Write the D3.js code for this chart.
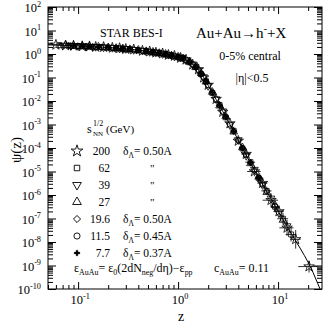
<!DOCTYPE html>
<html>
<head>
<meta charset="utf-8">
<script src="https://cdn.jsdelivr.net/npm/d3@7"></script>
<style>
  body { margin: 0; background: #fff; }
  svg { display: block; font-family: "Liberation Serif", "DejaVu Serif", serif; }
</style>
</head>
<body>
<script>
// ---- data ----
const xTickExps = [-1, 0, 1];
const yTickExps = [-10, -9, -8, -7, -6, -5, -4, -3, -2, -1, 0, 1, 2];

// fitted curve psi(z)
const fitZ   = [0.05, 0.07, 0.1, 0.15, 0.2, 0.3, 0.4, 0.5, 0.6, 0.7, 0.8, 0.92, 1.0, 1.12, 1.2, 1.3, 1.4, 1.5, 1.6, 1.7, 1.8, 1.9, 2.0, 2.2, 2.4, 2.6, 2.8, 3.0, 3.3, 3.6, 4.0, 4.4, 4.8, 5.3, 5.8, 6.4, 7.0, 7.7, 8.5, 9.3, 10.2, 11.2, 12.3, 13.5, 15, 16.6, 18.3, 20.2, 22.4, 25, 27.5];
const fitPsi = [2.5, 2.35, 2.19, 2.02, 1.90, 1.65, 1.46, 1.29, 1.16, 1.03, 0.93, 0.81, 0.74, 0.66, 0.56, 0.46, 0.36, 0.275, 0.21, 0.148, 0.102, 0.068, 0.046, 0.023, 0.0117, 0.0065, 0.0036, 0.0021, 0.001, 5.1e-4, 2.1e-4, 1e-4, 5e-5, 2.3e-5, 1.1e-5, 5.6e-6, 2.9e-6, 1.4e-6, 6.8e-7, 3.5e-7, 1.8e-7, 9.1e-8, 4.5e-8, 2.3e-8, 1.1e-8, 5.5e-9, 2.7e-9, 1.26e-9, 5e-10, 1.66e-10, 6.3e-11];

// sqrt(s_NN) = 200 GeV (stars)
const z200   = [0.06, 0.075, 0.09, 0.11, 0.13, 0.15, 0.18, 0.22, 0.26, 0.3, 0.36, 0.44, 0.52, 0.6, 0.7, 0.8, 0.92, 1.06, 1.2, 1.4, 1.6, 1.8, 2.0, 2.4, 2.8, 3.3, 4.0, 4.8, 5.8, 7.0, 8.5, 10.2, 12.3, 15, 20.4];
const psi200 = [2.45, 2.30, 2.26, 2.12, 2.10, 2.00, 1.97, 1.82, 1.76, 1.62, 1.55, 1.36, 1.28, 1.14, 1.05, 0.91, 0.83, 0.68, 0.57, 0.35, 0.22, 0.098, 0.048, 0.012, 0.0034, 0.0011, 2.0e-4, 5.5e-5, 1.0e-5, 3.2e-6, 6.0e-7, 2.0e-7, 4.0e-8, 1.3e-8, 9e-10];
const dz200  = [0.012, 0, 0, 0, 0, 0, 0, 0, 0, 0, 0, 0, 0, 0, 0, 0, 0, 0, 0, 0, 0, 0, 0, 0, 0, 0, 0.3, 0.5, 0.9, 0.8, 1.5, 1.2, 2.0, 1.8, 4.5];
const df200  = [1, 1, 1, 1, 1, 1, 1, 1, 1, 1, 1, 1, 1, 1, 1, 1, 1, 1, 1, 1, 1, 1, 1, 1, 1, 1, 1.3, 1.5, 1.6, 1.5, 2.0, 1.8, 2.2, 2.5, 1.8];

// 62 GeV (squares)
const z62   = [0.065, 0.08, 0.1, 0.12, 0.14, 0.17, 0.2, 0.24, 0.28, 0.33, 0.4, 0.48, 0.56, 0.65, 0.75, 0.86, 1.0, 1.12, 1.3, 1.5, 1.7, 1.9, 2.2, 2.6, 3.0, 3.6, 4.4, 5.3, 6.4, 7.7, 9.3, 11.2, 13.5];
const psi62 = [2.36, 2.31, 2.17, 2.13, 2.03, 1.98, 1.88, 1.80, 1.67, 1.61, 1.44, 1.34, 1.18, 1.12, 0.96, 0.88, 0.72, 0.67, 0.44, 0.28, 0.14, 0.07, 0.022, 0.0068, 0.002, 5.4e-4, 9.5e-5, 2.5e-5, 5.2e-6, 1.5e-6, 3.2e-7, 9.8e-8, 2.1e-8];
const dz62  = [0, 0, 0, 0, 0, 0, 0, 0, 0, 0, 0, 0, 0, 0, 0, 0, 0, 0, 0, 0, 0, 0, 0, 0, 0, 0, 0.3, 0.6, 0.5, 0.9, 0.8, 1.4, 1.6];
const df62  = [1, 1, 1, 1, 1, 1, 1, 1, 1, 1, 1, 1, 1, 1, 1, 1, 1, 1, 1, 1, 1, 1, 1, 1, 1, 1, 1.2, 1.3, 1.4, 1.5, 1.7, 1.8, 2.0];

// 39 GeV (down triangles)
const z39   = [0.07, 0.085, 0.1, 0.12, 0.15, 0.18, 0.22, 0.26, 0.3, 0.36, 0.44, 0.52, 0.6, 0.7, 0.8, 0.92, 1.06, 1.2, 1.4, 1.6, 1.8, 2.0, 2.4, 2.8, 3.3, 4.0, 4.8, 5.8, 7.0, 8.5, 10.2, 12.3];
const psi39 = [2.33, 2.24, 2.21, 2.09, 2.04, 1.93, 1.86, 1.72, 1.66, 1.51, 1.40, 1.24, 1.17, 1.01, 0.94, 0.79, 0.71, 0.55, 0.37, 0.20, 0.105, 0.044, 0.0121, 0.0037, 9.6e-4, 2.2e-4, 4.7e-5, 1.2e-5, 2.7e-6, 7.2e-7, 1.7e-7, 4.8e-8];

// 27 GeV (up triangles)
const z27   = [0.075, 0.09, 0.11, 0.13, 0.16, 0.2, 0.24, 0.28, 0.33, 0.4, 0.48, 0.56, 0.65, 0.75, 0.86, 1.0, 1.12, 1.3, 1.5, 1.7, 1.9, 2.2, 2.6, 3.0, 3.6, 4.4, 5.3, 6.4, 7.7, 9.3, 11.2];
const psi27 = [2.34, 2.21, 2.17, 2.06, 2.01, 1.89, 1.77, 1.71, 1.57, 1.48, 1.30, 1.22, 1.08, 1.00, 0.84, 0.76, 0.64, 0.47, 0.27, 0.152, 0.066, 0.024, 0.0063, 0.0022, 4.9e-4, 1.05e-4, 2.2e-5, 5.9e-6, 1.3e-6, 3.7e-7, 8.6e-8];

// 19.6 GeV (diamonds)
const z19   = [0.08, 0.1, 0.12, 0.14, 0.17, 0.2, 0.24, 0.28, 0.33, 0.4, 0.48, 0.56, 0.65, 0.75, 0.86, 1.0, 1.12, 1.3, 1.5, 1.7, 1.9, 2.2, 2.6, 3.0, 3.6, 4.4, 5.3, 6.4, 7.7, 9.3];
const psi19 = [2.27, 2.20, 2.10, 2.06, 1.95, 1.91, 1.78, 1.68, 1.60, 1.45, 1.33, 1.19, 1.11, 0.97, 0.87, 0.73, 0.65, 0.45, 0.28, 0.145, 0.069, 0.023, 0.0066, 0.0021, 5.2e-4, 1e-4, 2.4e-5, 5.4e-6, 1.45e-6, 3.4e-7];

// 11.5 GeV (circles)
const z11   = [0.085, 0.1, 0.12, 0.15, 0.18, 0.22, 0.26, 0.3, 0.36, 0.44, 0.52, 0.6, 0.7, 0.8, 0.92, 1.06, 1.2, 1.4, 1.6, 1.8, 2.0, 2.4, 2.8, 3.3, 4.0, 4.8, 5.8, 7.0];
const psi11 = [2.25, 2.18, 2.12, 2.01, 1.96, 1.83, 1.75, 1.64, 1.54, 1.37, 1.27, 1.15, 1.04, 0.92, 0.82, 0.69, 0.56, 0.36, 0.21, 0.1, 0.047, 0.0115, 0.0035, 1.0e-3, 2.1e-4, 5.1e-5, 1.1e-5, 2.8e-6];

// 7.7 GeV (plus)
const z7   = [0.09, 0.11, 0.13, 0.16, 0.2, 0.24, 0.28, 0.33, 0.4, 0.48, 0.56, 0.65, 0.75, 0.86, 1.0, 1.12, 1.3, 1.5, 1.7, 1.9, 2.2, 2.6, 3.0, 3.6, 4.4, 5.3, 6.4];
const psi7 = [2.22, 2.14, 2.07, 1.99, 1.90, 1.79, 1.70, 1.58, 1.46, 1.32, 1.20, 1.09, 0.98, 0.86, 0.74, 0.66, 0.46, 0.275, 0.148, 0.068, 0.023, 0.0065, 0.0021, 5.1e-4, 1e-4, 2.3e-5, 5.6e-6];

const energies = ["200", "62", "39", "27", "19.6", "11.5", "7.7"];
const deltas   = ["0.50A", null, null, null, "0.50A", "0.45A", "0.37A"];

// ---- layout ----
const W = 327, H = 327;
const L = 48, R = 322, T = 7, B = 289;

const svg = d3.select('body').append('svg').attr('width', W).attr('height', H);

const x = d3.scaleLog().domain([0.05, 27.5]).range([L, R]);
const y = d3.scaleLog().domain([1e-10, 100]).range([B, T]);

svg.append('clipPath').attr('id', 'frame').append('rect')
  .attr('x', L).attr('y', T).attr('width', R - L).attr('height', B - T);

// rich text with sub/superscripts: parts = [[text, mode]], mode 1 = sup, -1 = sub
function rich(g, px, py, parts, size, anchor) {
  const t = g.append('text').attr('x', px).attr('y', py)
    .attr('font-size', size).attr('text-anchor', anchor || 'start');
  let cur = 0;
  parts.forEach(([s, mode]) => {
    const target = mode === 1 ? -size * 0.42 : mode === -1 ? size * 0.28 : 0;
    const ts = t.append('tspan').text(s).attr('dy', target - cur);
    if (mode) ts.attr('font-size', size * 0.66);
    cur = target;
  });
  return t;
}

// ticks
const yMajor = yTickExps.map(e => Math.pow(10, e));
const yMinor = [];
yTickExps.slice(0, -1).forEach(e => { for (let k = 2; k <= 9; k++) yMinor.push(k * Math.pow(10, e)); });
const xMajor = xTickExps.map(e => Math.pow(10, e));
const xMinor = [];
[-2, -1, 0, 1].forEach(e => { for (let k = 2; k <= 9; k++) { const v = k * Math.pow(10, e); if (v >= 0.05 && v <= 27.5) xMinor.push(v); } });

function axisG(axis, tx, ty) {
  const g = svg.append('g').attr('transform', `translate(${tx},${ty})`).call(axis);
  g.select('.domain').remove();
  g.selectAll('line').attr('stroke', '#000').attr('stroke-width', 1);
  return g;
}
axisG(d3.axisLeft(y).tickValues(yMajor).tickSize(-8).tickFormat(''), L, 0);
axisG(d3.axisLeft(y).tickValues(yMinor).tickSize(-5).tickFormat(''), L, 0);
axisG(d3.axisRight(y).tickValues(yMajor).tickSize(-8).tickFormat(''), R, 0);
axisG(d3.axisRight(y).tickValues(yMinor).tickSize(-5).tickFormat(''), R, 0);
axisG(d3.axisBottom(x).tickValues(xMajor).tickSize(-7).tickFormat(''), 0, B);
axisG(d3.axisBottom(x).tickValues(xMinor).tickSize(-4).tickFormat(''), 0, B);
axisG(d3.axisTop(x).tickValues(xMajor).tickSize(-7).tickFormat(''), 0, T);
axisG(d3.axisTop(x).tickValues(xMinor).tickSize(-4).tickFormat(''), 0, T);

svg.append('rect').attr('x', L).attr('y', T).attr('width', R - L).attr('height', B - T)
  .attr('fill', 'none').attr('stroke', '#000').attr('stroke-width', 1);

// tick labels
yTickExps.forEach(e => rich(svg, 41, y(Math.pow(10, e)) + 5, [['10', 0], [String(e), 1]], 12.5, 'end'));
xTickExps.forEach(e => rich(svg, x(Math.pow(10, e)) + 2, 304, [['10', 0], [String(e), 1]], 12.5, 'middle'));

svg.append('text').attr('x', 181).attr('y', 321).attr('font-size', 14).attr('text-anchor', 'middle').text('z');
svg.append('text').attr('transform', 'translate(21,150) rotate(-90)').attr('font-size', 15)
  .attr('text-anchor', 'middle').text('ψ(z)');

// fit curve
const plot = svg.append('g').attr('clip-path', 'url(#frame)');
plot.append('path')
  .datum(fitZ.map((z, i) => [z, fitPsi[i]]))
  .attr('d', d3.line().x(d => x(d[0])).y(d => y(d[1])))
  .attr('fill', 'none').attr('stroke', '#000').attr('stroke-width', 1);

// markers
const sym = {
  star:   { type: d3.symbolStar, size: 34, rot: 0, fill: 'none' },
  square: { type: d3.symbolSquare, size: 24, rot: 0, fill: 'none' },
  down:   { type: d3.symbolTriangle, size: 26, rot: 180, fill: 'none' },
  up:     { type: d3.symbolTriangle, size: 26, rot: 0, fill: 'none' },
  diam:   { type: d3.symbolSquare, size: 20, rot: 45, fill: 'none' },
  circ:   { type: d3.symbolCircle, size: 24, rot: 0, fill: 'none' },
  plus:   { type: d3.symbolCross, size: 14, rot: 0, fill: '#000' }
};
const series = [
  { z: z200, psi: psi200, s: sym.star, dz: dz200, df: df200 },
  { z: z62, psi: psi62, s: sym.square, dz: dz62, df: df62 },
  { z: z39, psi: psi39, s: sym.down },
  { z: z27, psi: psi27, s: sym.up },
  { z: z19, psi: psi19, s: sym.diam },
  { z: z11, psi: psi11, s: sym.circ },
  { z: z7, psi: psi7, s: sym.plus }
];

series.forEach(se => {
  if (se.dz) {
    se.z.forEach((z, i) => {
      if (se.dz[i] > 0) {
        plot.append('line').attr('x1', x(Math.max(0.05, z - se.dz[i]))).attr('x2', x(z + se.dz[i]))
          .attr('y1', y(se.psi[i])).attr('y2', y(se.psi[i])).attr('stroke', '#000').attr('stroke-width', 0.8);
      }
      if (se.df[i] > 1) {
        plot.append('line').attr('x1', x(z)).attr('x2', x(z))
          .attr('y1', y(se.psi[i] / se.df[i])).attr('y2', y(se.psi[i] * se.df[i]))
          .attr('stroke', '#000').attr('stroke-width', 0.8);
      }
    });
  }
  plot.selectAll(null).data(se.z.map((z, i) => [z, se.psi[i]])).enter().append('path')
    .attr('transform', d => `translate(${x(d[0])},${y(d[1])}) rotate(${se.s.rot})`)
    .attr('d', d3.symbol().type(se.s.type).size(se.s.size))
    .attr('fill', se.s.fill).attr('stroke', '#000').attr('stroke-width', 0.8);
});

// legend
const lg = svg.append('g');
svg.append('text').attr('x', 87).attr('y', 133).attr('font-size', 12).text('s');
svg.append('text').attr('x', 93).attr('y', 126).attr('font-size', 8).text('1/2');
svg.append('text').attr('x', 93).attr('y', 136).attr('font-size', 7).text('NN');
svg.append('text').attr('x', 106).attr('y', 133).attr('font-size', 11).text('(GeV)');

const legSym = [sym.star, sym.square, sym.down, sym.up, sym.diam, sym.circ, sym.plus];
energies.forEach((e, i) => {
  const yy = 151 + i * 17;
  const s = legSym[i];
  lg.append('path').attr('transform', `translate(77,${yy}) rotate(${s.rot})`)
    .attr('d', d3.symbol().type(s.type).size(s.size * 1.25))
    .attr('fill', s.fill === 'none' ? '#fff' : s.fill).attr('stroke', '#000').attr('stroke-width', s.fill === 'none' ? 0.9 : 0.3);
  lg.append('text').attr('x', 110).attr('y', yy + 4).attr('font-size', 11.5).attr('text-anchor', 'end').text(e);
  if (deltas[i]) {
    rich(lg, 123, yy + 4, [['δ', 0], ['Λ', -1], ['= ' + deltas[i], 0]], 11.5, 'start');
  } else {
    lg.append('text').attr('x', 150).attr('y', yy + 4).attr('font-size', 11).text('"');
  }
});

// annotations
svg.append('text').attr('x', 100).attr('y', 37).attr('font-size', 12).text('STAR  BES-I');
rich(svg, 196, 38, [['Au+Au→h', 0], ['-', 1], ['+X', 0]], 15, 'start');
svg.append('text').attr('x', 250).attr('y', 60).attr('font-size', 12).attr('text-anchor', 'middle').text('0-5% central');
svg.append('text').attr('x', 252).attr('y', 82).attr('font-size', 12).attr('text-anchor', 'middle').text('|η|<0.5');

rich(svg, 74, 272, [['ε', 0], ['AuAu', -1], ['= ε', 0], ['0', -1], ['(2dN', 0], ['neg', -1], ['/dη)−ε', 0], ['pp', -1]], 12, 'start');
rich(svg, 214, 272, [['c', 0], ['AuAu', -1], ['= 0.11', 0]], 12, 'start');
</script>
</body>
</html>
